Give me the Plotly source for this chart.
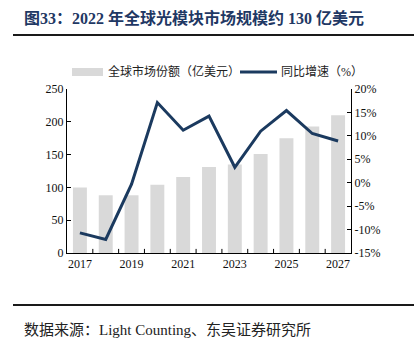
import plotly.graph_objects as go

years = ["2017", "2018", "2019", "2020", "2021", "2022", "2023", "2024", "2025", "2026", "2027"]
market = [100, 88, 88, 104, 116, 131, 135, 151, 175, 193, 210]
growth = [-10.7, -12.1, -0.3, 17.1, 11.2, 14.2, 3.3, 11.0, 15.4, 10.5, 8.9]
tick_years = ["2017", "2019", "2021", "2023", "2025", "2027"]
left_ticks = [0, 50, 100, 150, 200, 250]
right_ticks = [-15, -10, -5, 0, 5, 10, 15, 20]
bar_name = "全球市场份额（亿美元）"
line_name = "同比增速（%）"

W, H = 414, 348
ml, mr, mt, mb = 67, 63, 89, 95
pw, ph = W - ml - mr, H - mt - mb


def fx(x):
    return (x - ml) / pw


def fy(y):
    return (H - mb - y) / ph


fig = go.Figure()
fig.add_trace(go.Bar(x=years, y=market, name=bar_name,
                     marker=dict(color="#D9D9D9", line=dict(width=0)), width=0.54,
                     showlegend=False))
fig.add_trace(go.Scatter(x=years, y=growth, name=line_name, yaxis="y2",
                         mode="lines", line=dict(color="#1B3A5F", width=3),
                         showlegend=False))

serif = "Liberation Serif, Times New Roman, serif"
cjk = "Liberation Serif, Noto Sans CJK SC, serif"

fig.update_layout(
    width=W, height=H,
    margin=dict(l=ml, r=mr, t=mt, b=mb),
    paper_bgcolor="white", plot_bgcolor="white",
    xaxis=dict(type="category", categoryorder="array", categoryarray=years,
               range=[-0.5, 10.5], tickmode="array", tickvals=tick_years, ticktext=tick_years,
               showline=True, linecolor="#000000", linewidth=1,
               ticks="", showgrid=False, zeroline=False,
               tickfont=dict(family=serif, size=12, color="#111111")),
    yaxis=dict(range=[0, 250], tickvals=left_ticks, showline=True, linecolor="#000000",
               linewidth=1, ticks="inside", ticklen=4, tickcolor="#000000",
               showgrid=False, zeroline=False,
               tickfont=dict(family=serif, size=12, color="#111111")),
    yaxis2=dict(range=[-15, 20], tickvals=right_ticks,
                ticktext=[f"{v}%" for v in right_ticks], overlaying="y", side="right",
                showline=True, linecolor="#000000", linewidth=1,
                ticks="inside", ticklen=4, tickcolor="#000000",
                showgrid=False, zeroline=False,
                tickfont=dict(family=serif, size=12, color="#111111")),
)

# x-axis boundary ticks between categories (inside, pointing up)
for i in range(1, len(years)):
    fig.add_shape(type="line", xref="x", yref="paper", x0=i - 0.5, x1=i - 0.5,
                  y0=0, y1=0.025, line=dict(color="#000000", width=1))

# title
fig.add_annotation(xref="paper", yref="paper", x=fx(22), y=fy(18),
                   xanchor="left", yanchor="middle",
                   text="<b>图33：2022 年全球光模块市场规模约 130 亿美元</b>", showarrow=False,
                   font=dict(family=cjk, size=16, color="#1F3864"))
# title underline
fig.add_shape(type="line", xref="paper", yref="paper", x0=fx(13), x1=fx(414),
              y0=fy(35), y1=fy(35), line=dict(color="#1a1a1a", width=2))
# footer line
fig.add_shape(type="line", xref="paper", yref="paper", x0=fx(13), x1=fx(414),
              y0=fy(305), y1=fy(305), line=dict(color="#1a1a1a", width=2))
# source
fig.add_annotation(xref="paper", yref="paper", x=fx(22), y=fy(330),
                   xanchor="left", yanchor="middle",
                   text="数据来源：Light Counting、东吴证券研究所", showarrow=False,
                   font=dict(family=cjk, size=15, color="#222222"))

# legend (manual)
fig.add_shape(type="rect", xref="paper", yref="paper", x0=fx(72), x1=fx(103),
              y0=fy(76), y1=fy(68), fillcolor="#D9D9D9", line=dict(width=0))
fig.add_annotation(xref="paper", yref="paper", x=fx(106), y=fy(72), xanchor="left",
                   yanchor="middle", text=bar_name, showarrow=False,
                   font=dict(family=cjk, size=12, color="#222222"))
fig.add_shape(type="line", xref="paper", yref="paper", x0=fx(240), x1=fx(277),
              y0=fy(72), y1=fy(72), line=dict(color="#1B3A5F", width=3))
fig.add_annotation(xref="paper", yref="paper", x=fx(279), y=fy(72), xanchor="left",
                   yanchor="middle", text=line_name, showarrow=False,
                   font=dict(family=cjk, size=12, color="#222222"))

fig.write_html("out.html")
